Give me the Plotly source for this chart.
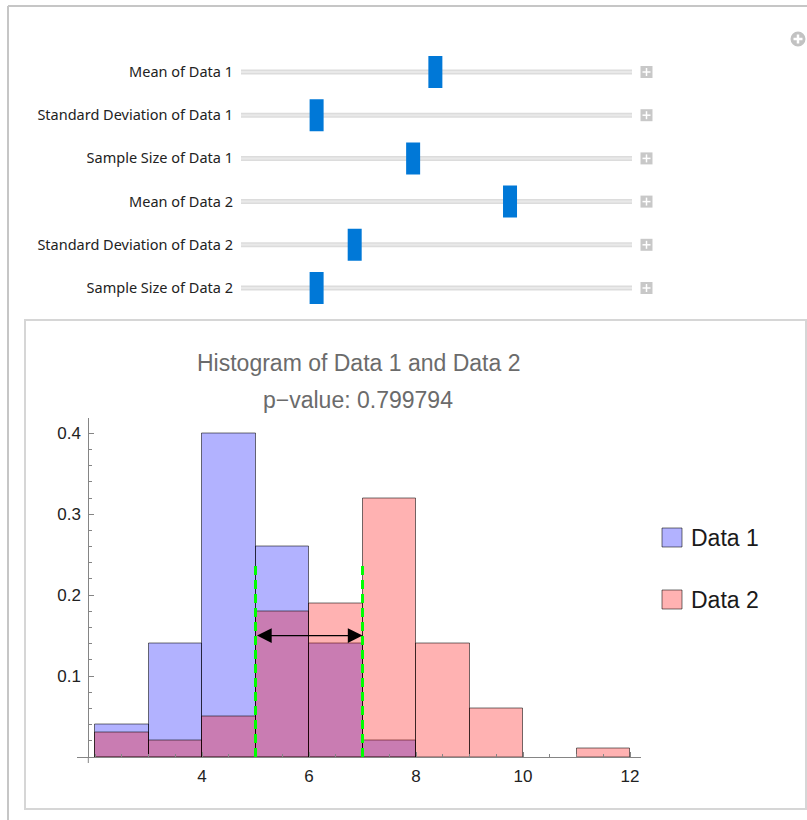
import plotly.graph_objects as go

# ---------------- data ----------------
bin_edges = [2, 3, 4, 5, 6, 7, 8, 9, 10, 11, 12]
data1_density = [0.04, 0.14, 0.40, 0.26, 0.14, 0.02, 0, 0, 0, 0]
data2_density = [0.03, 0.02, 0.05, 0.18, 0.19, 0.32, 0.14, 0.06, 0, 0.01]
series_names = ["Data 1", "Data 2"]
series_fill = ["rgba(0,0,255,0.3)", "rgba(255,0,0,0.3)"]
mean_marks = [5, 7]
mark_height = 0.24
arrow_y = 0.15
x_tick_vals = [4, 6, 8, 10, 12]
y_tick_vals = [0.1, 0.2, 0.3, 0.4]
title_line1 = "Histogram of Data 1 and Data 2"
p_value = 0.799794
slider_labels = ["Mean of Data 1", "Standard Deviation of Data 1", "Sample Size of Data 1",
                 "Mean of Data 2", "Standard Deviation of Data 2", "Sample Size of Data 2"]
slider_positions = [0.497, 0.182, 0.438, 0.695, 0.283, 0.182]

# ---------------- layout helpers ----------------
W, H = 807, 820
def px(x):
    return x / W
def py(y):
    return 1 - y / H

AXIS_GRAY = "#858585"
EDGE = "rgba(0,0,0,0.55)"
FONT = "Liberation Sans, Arial, sans-serif"

centers = [(a + b) / 2 for a, b in zip(bin_edges[:-1], bin_edges[1:])]
widths = [b - a for a, b in zip(bin_edges[:-1], bin_edges[1:])]

fig = go.Figure()
for name, vals, col in zip(series_names, [data1_density, data2_density], series_fill):
    fig.add_trace(go.Bar(
        x=centers, y=[v if v > 0 else None for v in vals], width=widths,
        name=name, marker=dict(color=col, line=dict(color=EDGE, width=1)),
        showlegend=False, hoverinfo="x+y", xaxis="x", yaxis="y"))

# slider controls
track_pad = 7 / 377
row_idx = list(range(len(slider_labels)))
for i in row_idx:
    fig.add_trace(go.Scatter(x=[-track_pad, 1 + track_pad], y=[i, i], mode="lines",
                             line=dict(color="#dcdcdc", width=5), xaxis="x2", yaxis="y2",
                             showlegend=False, hoverinfo="skip"))
    fig.add_trace(go.Scatter(x=[-track_pad, 1 + track_pad], y=[i, i], mode="lines",
                             line=dict(color="#e9e9e9", width=2), xaxis="x2", yaxis="y2",
                             showlegend=False, hoverinfo="skip"))
fig.add_trace(go.Scatter(x=slider_positions, y=row_idx, mode="markers",
                         marker=dict(symbol="line-ns", size=32 / 1.4, color="#0078d7",
                                     line=dict(color="#0078d7", width=14)),
                         xaxis="x2", yaxis="y2", showlegend=False, hoverinfo="skip"))

shapes = []
annotations = []

# outer frame
shapes.append(dict(type="line", xref="paper", yref="paper", x0=px(8), x1=1.01, y0=py(6), y1=py(6),
                   line=dict(color="#c6c6c6", width=2)))
shapes.append(dict(type="line", xref="paper", yref="paper", x0=px(8), x1=px(8), y0=py(6), y1=-0.01,
                   line=dict(color="#c6c6c6", width=2)))
# plot panel frame
shapes.append(dict(type="rect", xref="paper", yref="paper", x0=px(25), x1=px(806), y0=py(809), y1=py(320),
                   line=dict(color="#d6d6d6", width=2), layer="below"))
# plus boxes at slider ends
for i in row_idx:
    cy = 72 + 43.2 * i
    shapes.append(dict(type="rect", xref="paper", yref="paper", x0=px(640.5), x1=px(652.5),
                       y0=py(cy + 6), y1=py(cy - 6), fillcolor="#c8c8c8", line=dict(width=0)))
    shapes.append(dict(type="line", xref="paper", yref="paper", x0=px(642.5), x1=px(650.5),
                       y0=py(cy), y1=py(cy), line=dict(color="white", width=1.5)))
    shapes.append(dict(type="line", xref="paper", yref="paper", x0=px(646.5), x1=px(646.5),
                       y0=py(cy - 4), y1=py(cy + 4), line=dict(color="white", width=1.5)))
# circle-plus icon
shapes.append(dict(type="circle", xref="paper", yref="paper", x0=px(790.5), x1=px(805.5),
                   y0=py(46.5), y1=py(31.5), fillcolor="#c2c2c2", line=dict(width=0)))
shapes.append(dict(type="line", xref="paper", yref="paper", x0=px(793.5), x1=px(802.5),
                   y0=py(39), y1=py(39), line=dict(color="white", width=2.5)))
shapes.append(dict(type="line", xref="paper", yref="paper", x0=px(798), x1=px(798),
                   y0=py(34.5), y1=py(43.5), line=dict(color="white", width=2.5)))

# y axis extension below the x axis
shapes.append(dict(type="line", xref="paper", yref="paper", x0=px(88.3), x1=px(88.3),
                   y0=py(757), y1=py(763), line=dict(color=AXIS_GRAY, width=1)))

# mean marker lines
for m in mean_marks:
    shapes.append(dict(type="line", xref="x", yref="y", x0=m, x1=m, y0=0, y1=mark_height,
                       line=dict(color="#00ff00", width=3, dash="9px,5px")))

# double arrow between the marks
annotations.append(dict(x=mean_marks[1], y=arrow_y, ax=mean_marks[0], ay=arrow_y,
                        xref="x", yref="y", axref="x", ayref="y", text="",
                        showarrow=True, arrowside="end+start", arrowhead=2,
                        arrowsize=2.1, arrowwidth=1.4, arrowcolor="black",
                        standoff=0, startstandoff=0))

# title
annotations.append(dict(x=px(358), y=py(363), xref="paper", yref="paper", text=title_line1,
                        showarrow=False, xanchor="center", yanchor="middle",
                        font=dict(family=FONT, size=23, color="#6b6b6b")))
annotations.append(dict(x=px(358), y=py(400), xref="paper", yref="paper",
                        text="p\u2212value: " + f"{p_value:.6f}",
                        showarrow=False, xanchor="center", yanchor="middle",
                        font=dict(family=FONT, size=23, color="#6b6b6b")))

# legend
for k, (name, col) in enumerate(zip(series_names, series_fill)):
    cy = 537.5 + 62 * k
    shapes.append(dict(type="rect", xref="paper", yref="paper", x0=px(662), x1=px(682),
                       y0=py(cy + 9.5), y1=py(cy - 9.5), fillcolor=col,
                       line=dict(color=EDGE, width=1)))
    annotations.append(dict(x=px(689), y=py(cy), xref="paper", yref="paper", text=name,
                            showarrow=False, xanchor="left", yanchor="middle",
                            font=dict(family=FONT, size=23, color="#1a1a1a")))

x_lo = 4 - (202 - 77) / 53.5
x_hi = 4 + (641 - 202) / 53.5

fig.update_layout(
    width=W, height=H, margin=dict(l=0, r=0, t=0, b=0),
    paper_bgcolor="white", plot_bgcolor="rgba(0,0,0,0)",
    barmode="overlay", bargap=0,
    shapes=shapes, annotations=annotations,
    font=dict(family=FONT),
    xaxis=dict(domain=[px(77), px(641)], range=[x_lo, x_hi], anchor="y",
               showline=True, linecolor=AXIS_GRAY, linewidth=1,
               tickmode="array", tickvals=x_tick_vals, ticktext=[str(v) for v in x_tick_vals],
               ticks="inside", ticklen=5, tickcolor=AXIS_GRAY, tickwidth=1,
               minor=dict(ticks="inside", ticklen=3, tickcolor=AXIS_GRAY, tickmode="linear",
                          tick0=0, dtick=0.5),
               showgrid=False, zeroline=False, ticklabelstandoff=4,
               tickfont=dict(family=FONT, size=17, color="#222222")),
    yaxis=dict(domain=[py(757), py(417.5)], range=[0, 0.4195], anchor="free", position=px(88.3),
               showline=True, linecolor=AXIS_GRAY, linewidth=1,
               tickmode="array", tickvals=y_tick_vals, ticktext=[f"{v:.1f}" for v in y_tick_vals],
               ticks="inside", ticklen=5, tickcolor=AXIS_GRAY, tickwidth=1,
               minor=dict(ticks="inside", ticklen=3, tickcolor=AXIS_GRAY, tickmode="linear",
                          tick0=0, dtick=0.02),
               showgrid=False, zeroline=False, ticklabelstandoff=4,
               tickfont=dict(family=FONT, size=17, color="#222222")),
    xaxis2=dict(domain=[px(241), px(632)], range=[-track_pad, 1 + track_pad], anchor="y2",
                visible=False, fixedrange=True),
    yaxis2=dict(domain=[py(309.6), py(50.4)], range=[5.5, -0.5], anchor="x2",
                tickmode="array", tickvals=row_idx, ticktext=slider_labels,
                showline=False, showgrid=False, zeroline=False, ticks="",
                ticklabelstandoff=7, fixedrange=True,
                tickfont=dict(family="Noto Sans, sans-serif", size=14.5, color="#222222")),
)

fig.write_html("out.html", config={"displayModeBar": False},
               post_script="document.body.style.margin='0';")
